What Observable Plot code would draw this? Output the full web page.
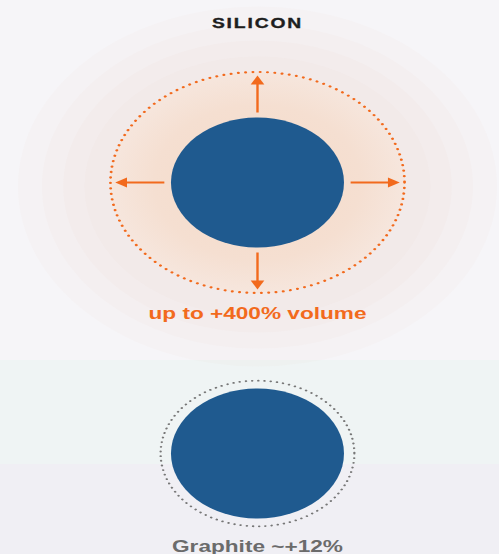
<!DOCTYPE html>
<html>
<head>
<meta charset="utf-8">
<script src="https://cdn.jsdelivr.net/npm/d3@7"></script>
<script src="https://cdn.jsdelivr.net/npm/@observablehq/plot@0.6"></script>
<style>
  html, body { margin: 0; padding: 0; overflow: hidden; }
  body {
    width: 499px; height: 554px;
    background: linear-gradient(to bottom, #f6f5f8 0px, #f6f5f8 360px, #eff4f4 360px, #eff4f4 464px, #f0eff4 464px, #f0eff4 554px);
  }
  #chart { width: 375px; height: 554px; transform: scale(1.3307, 1); transform-origin: 0 0; }
  #chart svg { background: transparent; display: block; }
</style>
</head>
<body>
<div id="chart"></div>
<script>
// ---- data ----
const materials = ["Silicon", "Graphite"];
const titleText = "SILICON";
const volumeLabels = ["up to +400% volume", "Graphite ~+12%"];
const volumeChangePct = [400, 12];
const shellScale = [1.7, 1.12];          // swollen outline radius / particle radius, as drawn
const arrowDirections = ["up", "down", "left", "right"];

// ---- layout ----
const W = 375, H = 554;
const cx = 193;
const centersY = [182, 453];
const particleR = 65;
const labelBaselines = [318, 551];
const blue = "#1f5a8f", orange = "#f26a1d", grey = "#6b6b6b";

const rows = materials.map((m, i) => ({
  material: m, label: volumeLabels[i], pct: volumeChangePct[i],
  x: cx, y: centersY[i], r: particleR, shellR: particleR * shellScale[i], labelY: labelBaselines[i]
}));
const si = rows[0];

const dirVec = {up: [0, -1, 0], down: [0, 1, 180], left: [-1, 0, 270], right: [1, 0, 90]};
const arrowStart = 70, arrowEnd = si.shellR - 7;
const arrows = arrowDirections.map(d => {
  const [dx, dy, rot] = dirVec[d];
  return {
    x1: si.x + dx * arrowStart, y1: si.y + dy * arrowStart,
    x2: si.x + dx * (arrowEnd - 3), y2: si.y + dy * (arrowEnd - 3),
    hx: si.x + dx * (arrowEnd - 2.5), hy: si.y + dy * (arrowEnd - 2.5), rot
  };
});

const glowLayers = [180, 162, 146, 130].map(r => ({x: si.x, y: si.y + 4, r}));

const defs = () => {
  const g = d3.create("svg:defs");
  const rg = g.append("radialGradient").attr("id", "swell");
  rg.append("stop").attr("offset", "0%").attr("stop-color", "#f4dac8");
  rg.append("stop").attr("offset", "70%").attr("stop-color", "#f5dfd1");
  rg.append("stop").attr("offset", "100%").attr("stop-color", "#f6e6dd");
  return g.node();
};

const plot = Plot.plot({
  width: W, height: H,
  margin: 0,
  x: {type: "identity"}, y: {type: "identity"}, r: {type: "identity"},
  axis: null,
  style: {background: "transparent", overflow: "visible"},
  marks: [
    defs,
    Plot.dot(glowLayers, {x: "x", y: "y", r: "r", fill: "#f3d3bd", fillOpacity: 0.06, stroke: "none"}),
    Plot.dot([si], {x: "x", y: "y", r: "shellR", fill: "url(#swell)", stroke: "none"}),
    Plot.dot([si], {x: "x", y: "y", r: "shellR", fill: "none", stroke: orange, strokeWidth: 2.2,
      strokeDasharray: "0.1 5.4", strokeLinecap: "round"}),
    Plot.dot([rows[1]], {x: "x", y: "y", r: "shellR", fill: "none", stroke: "#777", strokeWidth: 1.8,
      strokeDasharray: "0.1 4.6", strokeLinecap: "round"}),
    Plot.dot(rows, {x: "x", y: "y", r: "r", fill: blue, stroke: "none"}),
    Plot.link(arrows, {x1: "x1", y1: "y1", x2: "x2", y2: "y2", stroke: orange, strokeWidth: 1.8}),
    Plot.dot(arrows, {x: "hx", y: "hy", symbol: "triangle", r: 3.8, rotate: "rot", fill: orange, stroke: "none"}),
    Plot.text([titleText], {x: () => cx, y: () => 27.5, text: d => d, fontSize: 14.5, fontWeight: 900,
      fontFamily: "Liberation Sans, Arial, sans-serif", fill: "#1e1e1e", stroke: "#1e1e1e", strokeWidth: 0.35,
      textAnchor: "middle", lineAnchor: "bottom"}),
    Plot.text(rows, {x: "x", y: "labelY", text: "label", fontSize: 17, fontWeight: "bold",
      fontFamily: "Liberation Sans, Arial, sans-serif", textAnchor: "middle", lineAnchor: "bottom",
      fill: (d, i) => i === 0 ? orange : grey})
  ]
});

d3.select(plot).selectAll("text").filter(function() { return this.textContent === titleText; })
  .attr("letter-spacing", "1.4px");

document.getElementById("chart").appendChild(plot);
</script>
</body>
</html>
